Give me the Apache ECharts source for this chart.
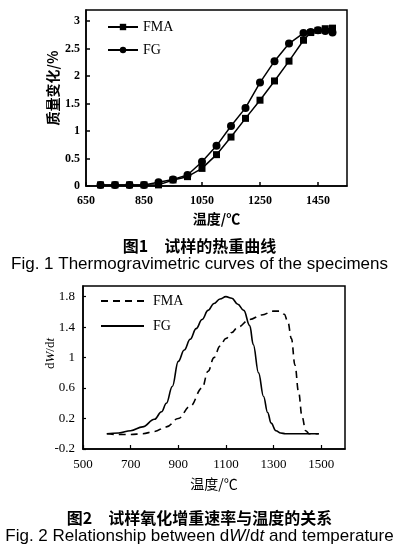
<!doctype html>
<html>
<head>
<meta charset="utf-8">
<title>试样的热重曲线</title>
<script src="https://cdn.jsdelivr.net/npm/echarts@6/dist/echarts.min.js"></script>
<style>
html,body{margin:0;padding:0;background:#fff;}
#chart1{width:399px;height:275px;}
#chart2{width:399px;height:276px;}
</style>
</head>
<body>
<div id="chart1"></div>
<div id="chart2"></div>
<script type="text/javascript">
// 图1 热重曲线
var temps1 = [700,750,800,850,900,950,1000,1050,1100,1150,1200,1250,1300,1350,1400,1425,1450,1475,1500];
var fma1 = [0.02,0.02,0.02,0.02,0.02,0.11,0.17,0.32,0.57,0.89,1.23,1.56,1.91,2.27,2.65,2.79,2.83,2.86,2.87];
var fg1  = [0.02,0.02,0.02,0.02,0.07,0.12,0.20,0.44,0.73,1.09,1.42,1.88,2.27,2.59,2.78,2.80,2.83,2.82,2.79];
var xTicks1 = [650,850,1050,1250,1450];
var yTicks1 = [0,0.5,1,1.5,2,2.5,3];

// 图2 dW/dt
var tempsFG2 = [600,650,700,750,800,830,850,875,900,925,950,975,1000,1025,1050,1075,1100,1125,1150,1175,1200,1215,1237,1258,1275,1290,1310,1330,1350,1490];
var fg2      = [0,0.01,0.04,0.09,0.19,0.29,0.40,0.62,0.95,1.10,1.24,1.38,1.50,1.62,1.71,1.77,1.80,1.78,1.70,1.62,1.42,1.17,0.80,0.49,0.28,0.14,0.04,0.01,0,0];
var tempsFMA2 = [600,650,700,750,800,850,900,950,1000,1025,1050,1075,1100,1125,1150,1200,1250,1300,1325,1345,1360,1375,1390,1405,1420,1435,1450,1490];
var fma2      = [0,-0.01,-0.01,0,0.03,0.09,0.20,0.36,0.60,0.82,1.00,1.15,1.25,1.33,1.40,1.50,1.56,1.61,1.61,1.57,1.47,1.25,0.90,0.55,0.22,0.04,0,0];
var xTicks2 = [500,700,900,1100,1300,1500];
var yTicks2 = [-0.2,0.2,0.6,1,1.4,1.8];

function pairs(xs, ys){
	var out = [];
	for(var i=0;i<xs.length;i++){ out.push([xs[i], ys[i]]); }
	return out;
}
function plain(v){ return String(v); }

var serif = 'Liberation Serif';
var cjk = 'Noto Sans CJK SC';
var sans = 'Liberation Sans';

function initChart1(){
	var option = {
		animation:false,
		title:{
			text:'图1　试样的热重曲线',
			subtext:'Fig. 1 Thermogravimetric curves of the specimens',
			left:'center',
			top:233,
			itemGap:2,
			textStyle:{fontFamily:cjk,fontWeight:'bold',fontSize:16,color:'#000'},
			subtextStyle:{fontFamily:sans,fontSize:17,color:'#000'}
		},
		legend:{
			orient:'vertical',
			left:102,
			top:15,
			itemWidth:30,
			itemHeight:8,
			itemGap:9,
			data:['FMA','FG'],
			textStyle:{fontFamily:serif,fontSize:14,color:'#000'}
		},
		grid:{
			left:86, top:10, width:261, height:176,
			show:true, borderColor:'#000', borderWidth:1.5
		},
		xAxis:{
			type:'value',
			min:650, max:1550,
			name:'温度/℃',
			nameLocation:'middle',
			nameGap:24,
			nameTextStyle:{fontFamily:cjk,fontWeight:'bold',fontSize:14,color:'#000'},
			axisLine:{onZero:false,lineStyle:{color:'#000',width:1.5}},
			axisTick:{inside:true,length:4,customValues:xTicks1,lineStyle:{color:'#000',width:1.5}},
			axisLabel:{customValues:xTicks1,formatter:plain,margin:9,fontFamily:serif,fontWeight:'bold',fontSize:12,color:'#000'},
			splitLine:{show:false}
		},
		yAxis:{
			type:'value',
			min:0, max:3.2,
			name:'质量变化/%',
			nameLocation:'middle',
			nameGap:26,
			nameMoveOverlap:false,
			nameTextStyle:{fontFamily:cjk,fontWeight:'bold',fontSize:14,color:'#000',padding:[0,0,0,20]},
			axisLine:{onZero:false,lineStyle:{color:'#000',width:1.5}},
			axisTick:{inside:true,length:4,customValues:yTicks1,lineStyle:{color:'#000',width:1.5}},
			axisLabel:{customValues:yTicks1,formatter:plain,margin:6,fontFamily:serif,fontWeight:'bold',fontSize:12,color:'#000'},
			splitLine:{show:false}
		},
		series:[
			{
				name:'FMA',
				type:'line',
				symbol:'rect',
				symbolSize:7,
				itemStyle:{color:'#000'},
				lineStyle:{color:'#000',width:1.5},
				data:pairs(temps1,fma1)
			},
			{
				name:'FG',
				type:'line',
				symbol:'circle',
				symbolSize:8,
				itemStyle:{color:'#000'},
				lineStyle:{color:'#000',width:1.5},
				data:pairs(temps1,fg1)
			}
		]
	};
	echarts.init(document.getElementById('chart1')).setOption(option);
}

function initChart2(){
	var option = {
		animation:false,
		title:{
			text:'图2　试样氧化增重速率与温度的关系',
			subtext:'{n|Fig. 2 Relationship between d}{i|W}{n|/d}{i|t}{n| and temperature}',
			left:'center',
			top:230,
			itemGap:2,
			textStyle:{fontFamily:cjk,fontWeight:'bold',fontSize:16,color:'#000'},
			subtextStyle:{
				fontFamily:sans,fontSize:17,color:'#000',
				rich:{
					n:{fontFamily:sans,fontSize:17,color:'#000'},
					i:{fontFamily:sans,fontSize:17,fontStyle:'italic',color:'#000'}
				}
			}
		},
		legend:{
			orient:'vertical',
			left:95,
			top:14,
			itemWidth:43,
			itemHeight:10,
			itemGap:11,
			data:['FMA','FG'],
			itemStyle:{opacity:0},
			textStyle:{fontFamily:serif,fontSize:14,color:'#000',padding:[0,0,0,4]}
		},
		grid:{
			left:83, top:11, width:262, height:163,
			show:true, borderColor:'#000', borderWidth:1.5
		},
		xAxis:{
			type:'value',
			min:500, max:1600,
			name:'温度/℃',
			nameLocation:'middle',
			nameGap:28,
			nameTextStyle:{fontFamily:cjk,fontSize:14,color:'#000'},
			axisLine:{onZero:false,lineStyle:{color:'#000',width:1.5}},
			axisTick:{inside:true,length:4,customValues:xTicks2,lineStyle:{color:'#000',width:1.2}},
			axisLabel:{customValues:xTicks2,formatter:plain,margin:9,fontFamily:serif,fontSize:13,color:'#000'},
			splitLine:{show:false}
		},
		yAxis:{
			type:'value',
			min:-0.2, max:1.94,
			name:'{n|d}{i|W}{n|/d}{i|t}',
			nameLocation:'middle',
			nameGap:26,
			nameMoveOverlap:false,
			nameTextStyle:{
				fontFamily:serif,fontSize:13,color:'#000',padding:[0,0,0,28],
				rich:{
					n:{fontFamily:serif,fontSize:13,color:'#000'},
					i:{fontFamily:serif,fontSize:13,fontStyle:'italic',color:'#000'}
				}
			},
			axisLine:{onZero:false,lineStyle:{color:'#000',width:1.5}},
			axisTick:{inside:true,length:3,customValues:yTicks2,lineStyle:{color:'#000',width:1.2}},
			axisLabel:{customValues:yTicks2,formatter:plain,margin:8,fontFamily:serif,fontSize:13,color:'#000'},
			splitLine:{show:false}
		},
		series:[
			{
				name:'FMA',
				type:'line',
				symbol:'none',
				smooth:0.4,
				smoothMonotone:'x',
				itemStyle:{color:'#000'},
				lineStyle:{color:'#000',width:1.6,type:[7,5]},
				data:pairs(tempsFMA2,fma2)
			},
			{
				name:'FG',
				type:'line',
				symbol:'none',
				smooth:0.4,
				smoothMonotone:'x',
				itemStyle:{color:'#000'},
				lineStyle:{color:'#000',width:1.6},
				data:pairs(tempsFG2,fg2)
			}
		]
	};
	echarts.init(document.getElementById('chart2')).setOption(option);
}

initChart1();
initChart2();
</script>
</body>
</html>
